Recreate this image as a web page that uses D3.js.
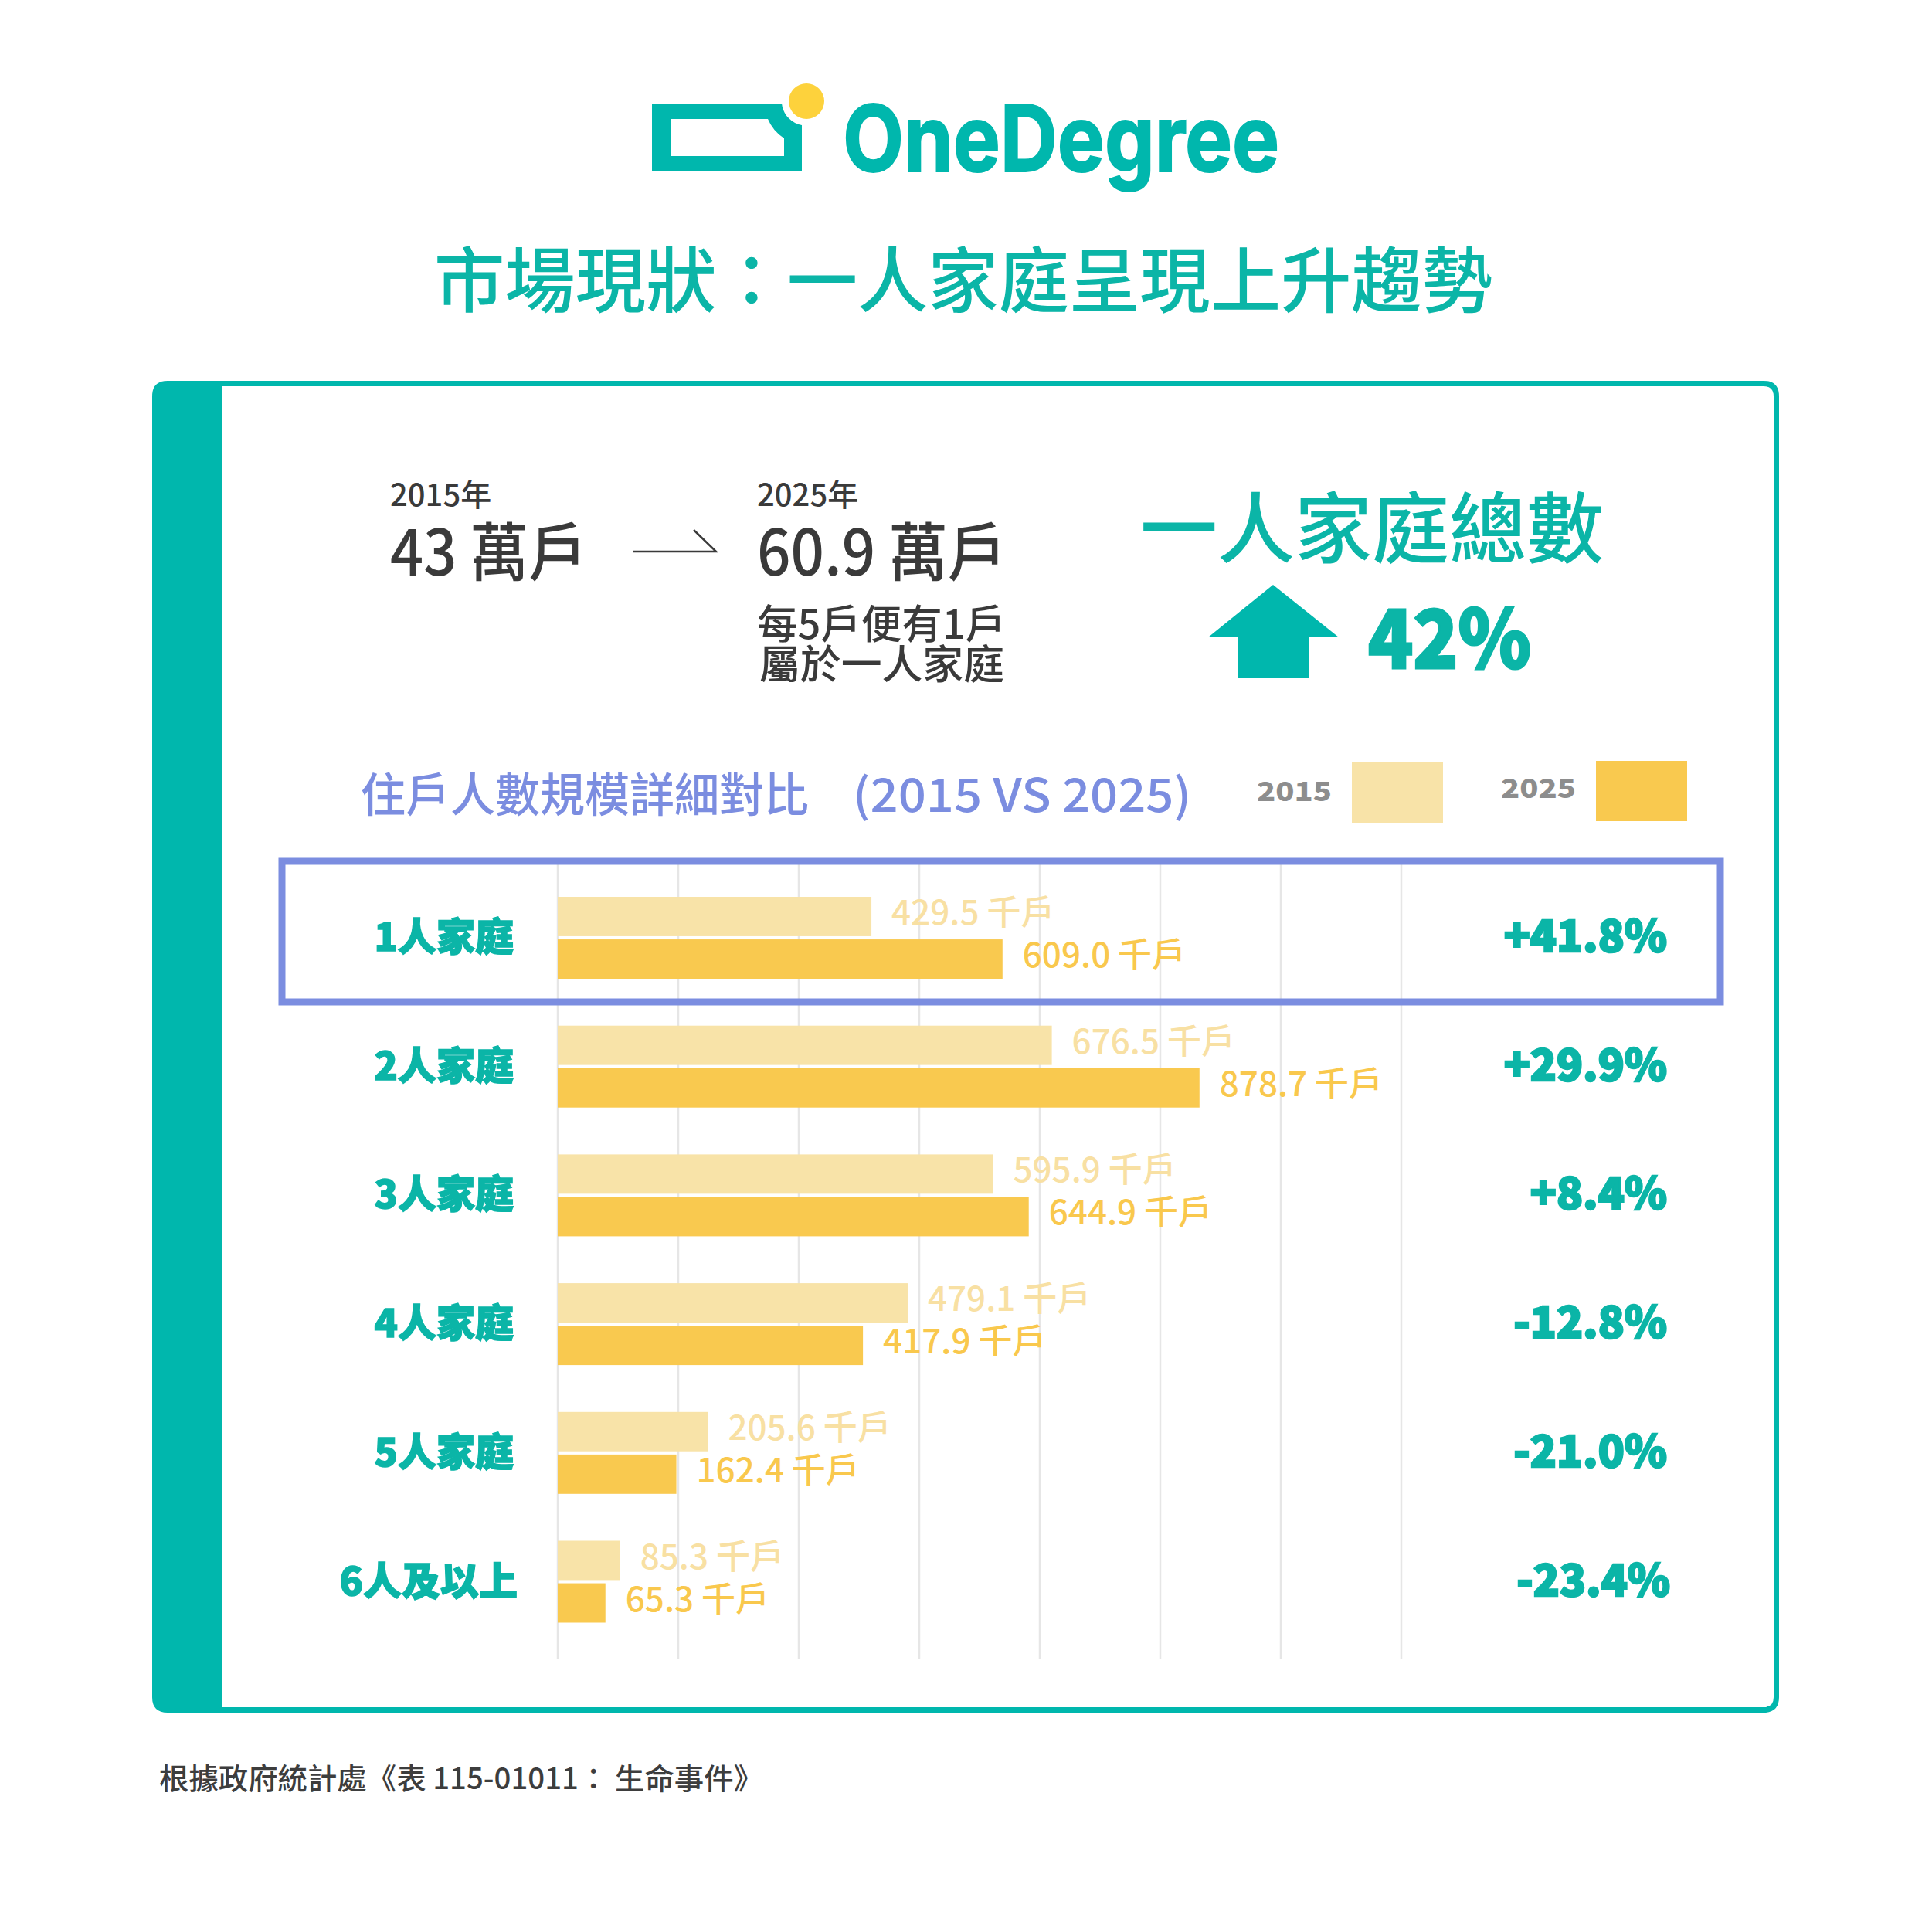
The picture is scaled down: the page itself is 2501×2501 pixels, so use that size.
<!DOCTYPE html>
<html>
<head>
<meta charset="utf-8">
<script src="https://cdn.jsdelivr.net/npm/d3@7"></script>
<style>
  body { margin: 0; background: #fff; }
  text { font-family: "Noto Sans CJK TC", "Noto Sans", sans-serif; }
</style>
</head>
<body>
<div id="chart"></div>
<script>
// household size categories and values (thousand households)
const categories = ["1人家庭", "2人家庭", "3人家庭", "4人家庭", "5人家庭", "6人及以上"];
const years = ["2015", "2025"];
const values2015 = [429.5, 676.5, 595.9, 479.1, 205.6, 85.3];
const values2025 = [609.0, 878.7, 644.9, 417.9, 162.4, 65.3];
const changes = [41.8, 29.9, 8.4, -12.8, -21.0, -23.4];
const gridTicks = [0, 165, 330, 495, 660, 825, 990, 1155];

const teal = "#00b7ad";
const textTeal = "#0bb5a7";
const light = "#f8e3a8";
const dark = "#f9c94f";
const purple = "#7b8de0";
const grey = "#3a3a3a";

const W = 2501, H = 2501;

const svg = d3.select("#chart")
    .append("svg")
    .attr("width", W)
    .attr("height", H);

svg.append("rect").attr("width", W).attr("height", H).attr("fill", "#fff");

// ---- logo ----
const logo = svg.append("g");
logo.append("path")
    .attr("fill", teal)
    .attr("fill-rule", "evenodd")
    .attr("d", "M844,134 L1012,134 A32,32 0 0,0 1038,162 L1038,222 L844,222 Z " +
               "M868,154 L994,154 A55,55 0 0,0 1015,179 L1015,202 L868,202 Z");
logo.append("circle")
    .attr("cx", 1044).attr("cy", 131).attr("r", 23)
    .attr("fill", "#fdd23c");
logo.append("text")
    .attr("x", 1091).attr("y", 222)
    .attr("textLength", 565)
    .attr("lengthAdjust", "spacingAndGlyphs")
    .style("font-family", "Inter, 'Noto Sans', sans-serif")
    .style("font-size", "120px")
    .style("font-weight", 700)
    .attr("fill", teal)
    .attr("stroke", teal)
    .attr("stroke-width", 2)
    .text("OneDegree");

// ---- title ----
svg.append("text")
    .attr("x", 1247).attr("y", 397)
    .attr("text-anchor", "middle")
    .attr("textLength", 1370)
    .attr("lengthAdjust", "spacingAndGlyphs")
    .style("font-size", "92px")
    .style("font-weight", 500)
    .attr("fill", textTeal)
    .text("市場現狀：一人家庭呈現上升趨勢");

// ---- frame ----
svg.append("path")
    .attr("fill", teal)
    .attr("d", "M287,493 L217,493 Q197,493 197,513 L197,2197 Q197,2217 217,2217 L287,2217 Z");
svg.append("path")
    .attr("fill", "none")
    .attr("stroke", teal)
    .attr("stroke-width", 7)
    .attr("d", "M287,496.5 L2283,496.5 Q2299.5,496.5 2299.5,513 L2299.5,2197 Q2299.5,2213.5 2283,2213.5 L287,2213.5");

// ---- headline figures ----
const head = svg.append("g").attr("fill", grey);
head.append("text").attr("x", 505).attr("y", 655)
    .style("font-size", "40px").style("font-weight", 500).text("2015年");
head.append("text").attr("x", 505).attr("y", 745)
    .attr("textLength", 255).attr("lengthAdjust", "spacingAndGlyphs")
    .style("font-size", "82px").style("font-weight", 500).text("43 萬戶");
head.append("text").attr("x", 980).attr("y", 655)
    .style("font-size", "40px").style("font-weight", 500).text("2025年");
head.append("text").attr("x", 980).attr("y", 745)
    .attr("textLength", 323).attr("lengthAdjust", "spacingAndGlyphs")
    .style("font-size", "82px").style("font-weight", 500).text("60.9 萬戶");
head.append("text").attr("x", 980).attr("y", 827)
    .attr("textLength", 322).attr("lengthAdjust", "spacingAndGlyphs")
    .style("font-size", "52px").style("font-weight", 500).text("每5戶便有1戶");
head.append("text").attr("x", 983).attr("y", 879)
    .attr("textLength", 317).attr("lengthAdjust", "spacingAndGlyphs")
    .style("font-size", "52px").style("font-weight", 500).text("屬於一人家庭");

head.append("path")
    .attr("fill", "none")
    .attr("stroke", grey)
    .attr("stroke-width", 2.5)
    .attr("d", "M819,714 L927,714 L898,686");

svg.append("text")
    .attr("x", 1476).attr("y", 721)
    .attr("textLength", 600).attr("lengthAdjust", "spacingAndGlyphs")
    .style("font-size", "100px").style("font-weight", 500)
    .attr("fill", textTeal)
    .text("一人家庭總數");

svg.append("path")
    .attr("fill", teal)
    .attr("d", "M1648,757 L1733,825 L1694,825 L1694,878 L1602,878 L1602,825 L1564,825 Z");

svg.append("text")
    .attr("x", 1771).attr("y", 865)
    .attr("textLength", 211).attr("lengthAdjust", "spacingAndGlyphs")
    .style("font-size", "104px").style("font-weight", 900)
    .attr("fill", textTeal)
    .attr("stroke", textTeal)
    .attr("stroke-width", 3)
    .text("42%");

// ---- subtitle and legend ----
svg.append("text")
    .attr("x", 467).attr("y", 1051)
    .attr("textLength", 580).attr("lengthAdjust", "spacingAndGlyphs")
    .style("font-size", "60px").style("font-weight", 500)
    .attr("fill", purple)
    .text("住戶人數規模詳細對比");
svg.append("text")
    .attr("x", 1104).attr("y", 1051)
    .attr("textLength", 438).attr("lengthAdjust", "spacingAndGlyphs")
    .style("font-size", "60px").style("font-weight", 500)
    .attr("fill", purple)
    .text("(2015 VS 2025)");

const legend = [
    { label: "2015", color: light, tx: 1627, ty: 1037, sx: 1750, sy: 987 },
    { label: "2025", color: dark, tx: 1943, ty: 1033, sx: 2066, sy: 985 }
];
legend.forEach(l => {
    svg.append("text").attr("x", l.tx).attr("y", l.ty)
        .attr("textLength", 97).attr("lengthAdjust", "spacingAndGlyphs")
        .style("font-size", "35px").style("font-weight", 900)
        .attr("fill", "#8d8d8d").text(l.label);
    svg.append("rect").attr("x", l.sx).attr("y", l.sy)
        .attr("width", 118).attr("height", 78).attr("fill", l.color);
});

// ---- bar chart ----
const x = d3.scaleLinear()
    .domain([0, 1155])
    .range([722, 1814]);

const y = d3.scalePoint()
    .domain(categories)
    .range([1214, 2047.5]);

const inner = d3.scaleBand()
    .domain(years)
    .range([-53, 53])
    .paddingInner(0.075);

svg.append("g")
    .selectAll("line")
    .data(gridTicks)
    .join("line")
    .attr("x1", d => x(d)).attr("x2", d => x(d))
    .attr("y1", 1117).attr("y2", 2148)
    .attr("stroke", "#e6e6e6")
    .attr("stroke-width", 2.5);

const rows = categories.map((c, i) => ({
    cat: c,
    bars: [
        { year: "2015", value: values2015[i], color: light, labelColor: "#f8e0a3" },
        { year: "2025", value: values2025[i], color: dark, labelColor: "#f9c84d" }
    ],
    change: changes[i]
}));

const row = svg.append("g")
    .selectAll("g.row")
    .data(rows)
    .join("g")
    .attr("class", "row")
    .attr("transform", d => `translate(0,${y(d.cat)})`);

row.selectAll("rect")
    .data(d => d.bars)
    .join("rect")
    .attr("x", x(0))
    .attr("y", d => inner(d.year))
    .attr("width", d => x(d.value) - x(0))
    .attr("height", inner.bandwidth())
    .attr("fill", d => d.color);

row.selectAll("text.val")
    .data(d => d.bars)
    .join("text")
    .attr("class", "val")
    .attr("x", d => x(d.value) + 26)
    .attr("y", d => inner(d.year) + 36)
    .style("font-size", "44px")
    .style("font-weight", 500)
    .attr("fill", d => d.labelColor)
    .text(d => d.value.toFixed(1) + " 千戶");

row.append("text")
    .attr("x", d => d.cat === "6人及以上" ? 670 : 665)
    .attr("y", 17)
    .attr("text-anchor", "end")
    .style("font-size", "50px")
    .style("font-weight", 900)
    .attr("fill", textTeal)
    .attr("stroke", textTeal)
    .attr("stroke-width", 1.5)
    .text(d => d.cat);

row.append("text")
    .attr("x", d => d.cat === "6人及以上" ? 2162 : 2158)
    .attr("y", 18)
    .attr("text-anchor", "end")
    .style("font-size", "56px")
    .style("font-weight", 900)
    .attr("fill", textTeal)
    .attr("stroke", textTeal)
    .attr("stroke-width", 2.5)
    .text(d => (d.change > 0 ? "+" : "") + d.change.toFixed(1) + "%");

// highlight on the one-person row
svg.append("rect")
    .attr("x", 365).attr("y", 1115)
    .attr("width", 1862).attr("height", 182)
    .attr("fill", "none")
    .attr("stroke", purple)
    .attr("stroke-width", 9);

// ---- source ----
svg.append("text")
    .attr("x", 206).attr("y", 2316)
    .attr("textLength", 782).attr("lengthAdjust", "spacingAndGlyphs")
    .style("font-size", "38px").style("font-weight", 500)
    .attr("fill", "#3d3d3d")
    .text("根據政府統計處《表 115-01011： 生命事件》");
</script>
</body>
</html>
